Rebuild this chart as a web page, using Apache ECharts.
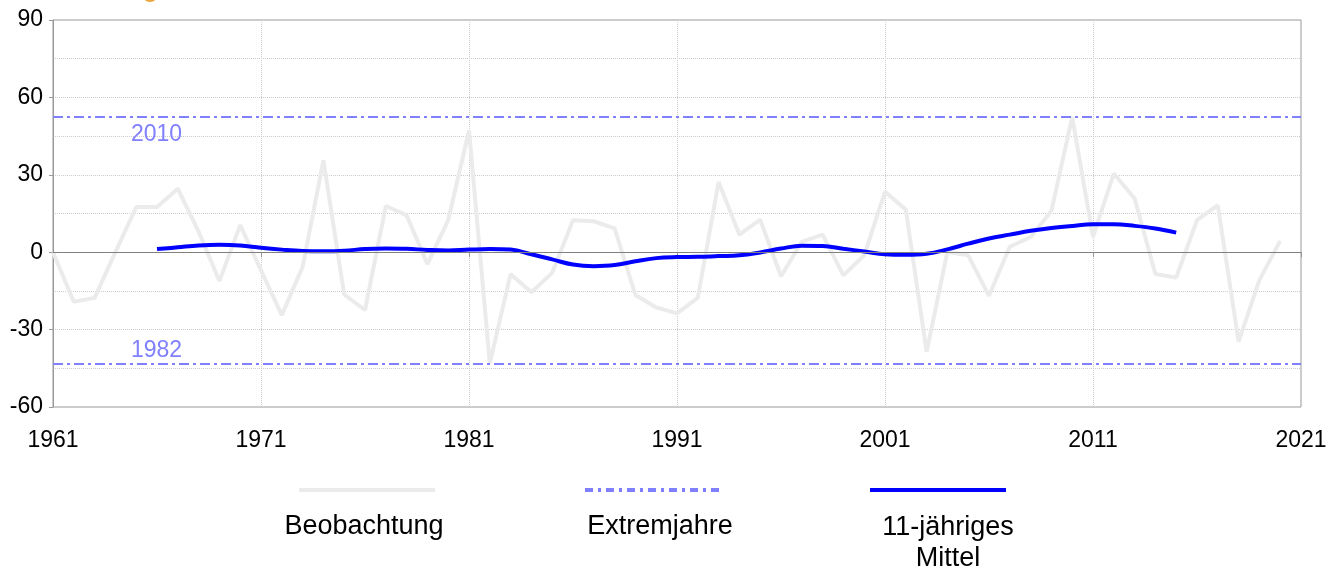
<!DOCTYPE html>
<html>
<head>
<meta charset="utf-8">
<script src="https://cdn.jsdelivr.net/npm/echarts@6/dist/echarts.min.js"></script>
<style>
  html, body { margin: 0; padding: 0; background: #fff; }
  #chart { width: 1339px; height: 571px; }
</style>
</head>
<body>
<div id="chart"></div>
<script>
// Beobachtung, jährliche Werte ab 1961
const obsStartYear = 1961;
const observed = [
  0, -19.2, -17.7, 0, 17.5, 17.5, 24.6, 8, -11.2, 10.5,
  -7, -24.4, -5.7, 35.6, -16.4, -22.4, 17.9, 14.3, -4.6, 12.4,
  47.2, -43.1, -8.5, -15.5, -8, 12.4, 12, 9.2, -16.6, -21.4,
  -23.7, -17.7, 27.2, 6.8, 12.6, -9.3, 4, 6.8, -9, -1.2,
  23.4, 16.5, -38.6, 0.1, -1.2, -16.9, 2.1, 5.9, 16, 52.4,
  5.9, 30.5, 20.8, -8.5, -9.8, 12.4, 18.2, -34.7, -10.8, 4.4
];

// 11-jähriges Mittel, 1966 bis 2015
const meanStartYear = 1966;
const mean11 = [
  1.2, 1.9, 2.6, 2.9, 2.6, 1.7, 1.0, 0.5, 0.4, 0.6,
  1.2, 1.4, 1.3, 0.9, 0.7, 1.0, 1.2, 1.0, -0.8, -2.8,
  -4.8, -5.4, -5.0, -3.5, -2.3, -1.9, -1.8, -1.5, -1.2, -0.1,
  1.4, 2.5, 2.4, 1.3, 0.3, -0.8, -1.0, -0.6, 1.1, 3.3,
  5.3, 6.8, 8.3, 9.4, 10.2, 10.8, 10.8, 10.2, 9.2, 7.6
];

// Extremjahre
const extremeYears = ['2010', '1982'];
const extremeValues = [52.4, -43.3];

const legendNames = ['Beobachtung', 'Extremjahre', '11-jähriges\nMittel'];

const FONT = '"Liberation Sans", Arial, sans-serif';
const gridDotted = { color: '#cccccc', type: 'dotted', width: 1 };
const extremeStyle = { color: '#8080ff', width: 2, type: [10, 4, 3, 4] };

function toPairs(start, values) {
  return values.map((v, i) => [start + i, v]);
}

let chart = echarts.init(document.getElementById('chart'));

chart.setOption({
  animation: false,
  grid: {
    left: 53, right: 38, top: 20, bottom: 164,
    show: true, borderColor: '#999', borderWidth: 1
  },
  xAxis: {
    type: 'value',
    min: 1961, max: 2021, interval: 10,
    axisLine: { lineStyle: { color: '#999' } },
    axisTick: { length: 5, lineStyle: { color: '#999' } },
    axisLabel: { color: '#000', fontSize: 23, fontFamily: FONT, margin: 22, formatter: v => String(v) },
    splitLine: { show: true, lineStyle: gridDotted }
  },
  yAxis: {
    type: 'value',
    min: -60, max: 90, interval: 30,
    axisLine: { show: true, lineStyle: { color: '#999' } },
    axisTick: { show: true, length: 4, lineStyle: { color: '#999' } },
    axisLabel: { color: '#000', fontSize: 23, fontFamily: FONT, margin: 10 },
    splitLine: { show: true, lineStyle: gridDotted },
    minorTick: { show: false, splitNumber: 2 },
    minorSplitLine: { show: true, lineStyle: gridDotted }
  },
  legend: [
    { data: [legendNames[0]], left: 297, top: 486 },
    { data: [legendNames[1]], left: 583, top: 486 },
    { data: [legendNames[2]], left: 868, top: 486 }
  ].map((l, i) => Object.assign(l, {
    padding: 0,
    itemWidth: 136, itemHeight: 8, itemGap: 0,
    formatter: () => '',
    itemStyle: { opacity: 0 },
    lineStyle: [
      { color: '#ebebeb', width: 4 },
      { color: '#8080ff', width: 4, type: [8, 5, 3, 5] },
      { color: '#0000ff', width: 4 }
    ][i]
  })),
  graphic: [
    { type: 'circle', shape: { cx: 150, cy: -6, r: 8 }, style: { fill: '#eba43a' } },
    { type: 'text', x: 364, y: 527, style: { text: 'Beobachtung', font: '27px ' + FONT, fill: '#000', align: 'center', verticalAlign: 'middle' } },
    { type: 'text', x: 660, y: 527, style: { text: 'Extremjahre', font: '27px ' + FONT, fill: '#000', align: 'center', verticalAlign: 'middle' } },
    { type: 'text', x: 948, y: 543, style: { text: '11-jähriges\nMittel', font: '27px ' + FONT, fill: '#000', align: 'center', verticalAlign: 'middle', lineHeight: 31 } }
  ],
  series: [
    {
      name: legendNames[0],
      type: 'line',
      data: toPairs(obsStartYear, observed),
      symbol: 'none',
      z: 2,
      lineStyle: { color: '#ebebeb', width: 4 },
      itemStyle: { color: '#ebebeb' },
      markLine: {
        silent: true,
        symbol: ['none', 'none'],
        label: { show: false },
        lineStyle: { color: '#808080', width: 1.2, type: 'solid' },
        data: [{ yAxis: 0 }]
      }
    },
    {
      name: legendNames[1],
      type: 'line',
      data: [],
      symbol: 'none',
      z: 3,
      lineStyle: extremeStyle,
      itemStyle: { color: '#8080ff' },
      markLine: {
        silent: true,
        symbol: ['none', 'none'],
        lineStyle: extremeStyle,
        label: { color: '#8080ff', fontSize: 23, fontFamily: FONT },
        data: [
          { yAxis: extremeValues[0], label: { formatter: extremeYears[0], position: 'insideStartBottom', distance: [78, 6] } },
          { yAxis: extremeValues[1], label: { formatter: extremeYears[1], position: 'insideStartTop', distance: [78, 2] } }
        ]
      }
    },
    {
      name: legendNames[2],
      type: 'line',
      data: toPairs(meanStartYear, mean11),
      symbol: 'none',
      smooth: 0.4,
      z: 4,
      lineStyle: { color: '#0000ff', width: 4 },
      itemStyle: { color: '#0000ff' }
    }
  ]
});
</script>
</body>
</html>
